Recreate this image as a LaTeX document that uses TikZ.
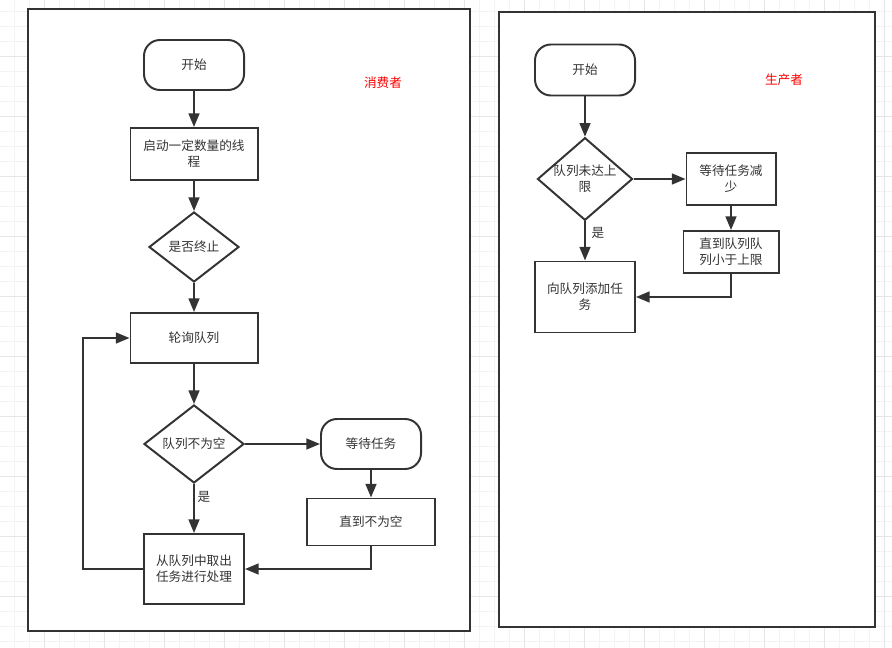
\documentclass[tikz,border=0pt]{standalone}
\usepackage{fontspec}
\newfontfamily\cjk{Noto Sans CJK SC}
\usetikzlibrary{arrows.meta,shapes.geometric}
\definecolor{linegray}{HTML}{333333}
\definecolor{gridminor}{HTML}{F3F3F3}
\definecolor{gridmajor}{HTML}{E6E6E6}
\tikzset{
  txt/.style={font=\cjk\fontsize{9}{11.5}\selectfont, text=linegray, align=center},
  proc/.style={txt, draw=linegray, line width=1.4pt, rectangle, inner sep=1pt},
  term/.style={proc, rounded corners=0.4cm},
  decide/.style={txt, draw=linegray, line width=1.4pt, diamond, inner sep=0pt},
  flow/.style={draw=linegray, line width=1.4pt, -{Triangle[length=0.34cm,width=0.27cm]}},
  frame/.style={draw=linegray, line width=1.5pt, fill=white},
  role/.style={font=\cjk\fontsize{9}{11}\selectfont, text=red}
}
\begin{document}
\begin{tikzpicture}[x=0.025cm, y=-0.025cm]
  \useasboundingbox (0,0) rectangle (892,648);
  % background grid
  \fill[white] (0,0) rectangle (892,648);
  \foreach \x in {14,29,...,884} \draw[gridminor, line width=0.5pt] (\x,0) -- (\x,648);
  \foreach \y in {11,26,...,641} \draw[gridminor, line width=0.5pt] (0,\y) -- (892,\y);
  \foreach \x in {44,104,...,884} \draw[gridmajor, line width=0.6pt] (\x,0) -- (\x,648);
  \foreach \y in {56,116,...,596} \draw[gridmajor, line width=0.6pt] (0,\y) -- (892,\y);

  % frames
  \draw[frame] (28,9) rectangle (470,631);
  \draw[frame] (499,12) rectangle (875,627);

  % consumer
  \node[term, minimum width=2.5cm, minimum height=1.25cm] (s1) at (194,65) {开始};
  \node[proc, minimum width=3.175cm, minimum height=1.3cm] (init) at (194,154) {启动一定数量的线\\程};
  \node[decide, minimum width=2.25cm, minimum height=1.75cm] (stop) at (194,247) {是否终止};
  \node[proc, minimum width=3.175cm, minimum height=1.25cm] (poll) at (194,338) {轮询队列};
  \node[decide, minimum width=2.5cm, minimum height=1.95cm] (nonempty) at (194,444) {队列不为空};
  \node[term, minimum width=2.5cm, minimum height=1.25cm] (wait) at (371,444) {等待任务};
  \node[proc, minimum width=3.2cm, minimum height=1.175cm] (until) at (371,522) {直到不为空};
  \node[proc, minimum width=2.5cm, minimum height=1.75cm] (take) at (194,569) {从队列中取出\\任务进行处理};
  \node[txt] (yes1) at (204,497) {是};
  \node[role] (consumer) at (383,83) {消费者};
  \coordinate (loop) at (83,569);

  \draw[flow] (s1) -- (init);
  \draw[flow] (init) -- (stop);
  \draw[flow] (stop) -- (poll);
  \draw[flow] (poll) -- (nonempty);
  \draw[flow] (nonempty) -- (take);
  \draw[flow] (nonempty) -- (wait);
  \draw[flow] (wait) -- (until);
  \draw[flow] (until.south) |- (take.east);
  \draw[flow] (take.west) -- (loop) |- (poll.west);

  % producer
  \node[term, minimum width=2.5cm, minimum height=1.275cm] (s2) at (585,70) {开始};
  \node[decide, minimum width=2.375cm, minimum height=1.825cm, inner xsep=-3pt] (full) at (585,179) {队列未达上\\限};
  \node[proc, minimum width=2.225cm, minimum height=1.3cm] (waitless) at (731,179) {等待任务减\\少};
  \node[proc, minimum width=2.375cm, minimum height=1.05cm] (untilless) at (731,252) {直到队列队\\列小于上限};
  \node[proc, minimum width=2.5cm, minimum height=1.775cm] (add) at (585,297) {向队列添加任\\务};
  \node[txt] (yes2) at (598,233) {是};
  \node[role] (producer) at (784,80) {生产者};

  \draw[flow] (s2) -- (full);
  \draw[flow] (full) -- (add);
  \draw[flow] (full) -- (waitless);
  \draw[flow] (waitless) -- (untilless);
  \draw[flow] (untilless.south) |- (add.east);
\end{tikzpicture}
\end{document}
